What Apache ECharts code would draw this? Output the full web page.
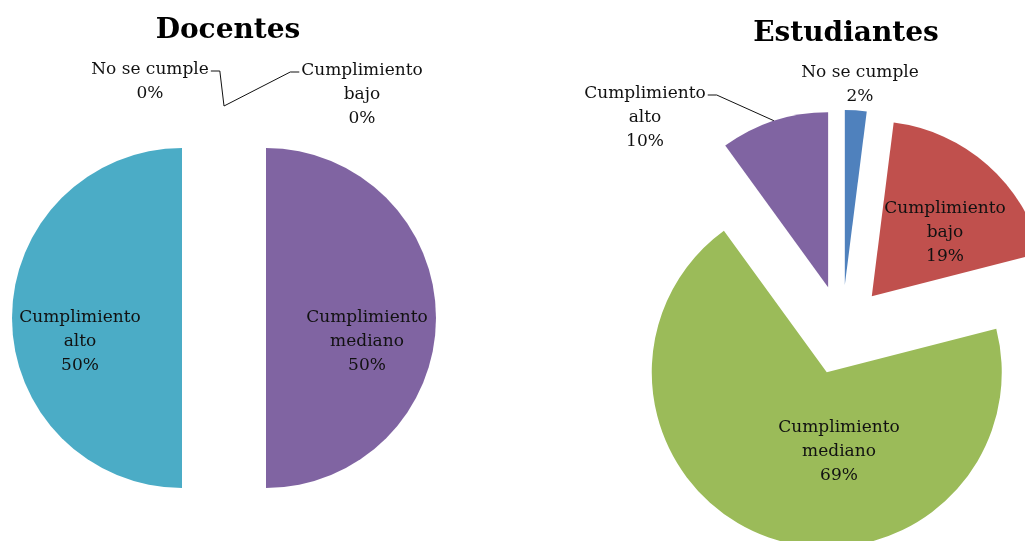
<!DOCTYPE html>
<html>
<head>
<meta charset="utf-8">
<script src="https://cdn.jsdelivr.net/npm/echarts@6/dist/echarts.min.js"></script>
<style>
  html, body { margin: 0; padding: 0; background: #ffffff; }
  #chart { width: 1025px; height: 541px; }
</style>
</head>
<body>
<div id="chart"></div>
<script>
// Categories shared by both pies
const categories = ['No se cumple', 'Cumplimiento bajo', 'Cumplimiento mediano', 'Cumplimiento alto'];
// Percent of answers per category
const docentesValues = [0, 0, 50, 50];
const estudiantesValues = [2, 19, 69, 10];
// Pie titles
const pieTitles = ['Docentes', 'Estudiantes'];
// Slice colours, per category
const docentesColors = ['#4F81BD', '#C0504D', '#8064A2', '#4BACC6'];
const estudiantesColors = ['#4F81BD', '#C0504D', '#9BBB59', '#8064A2'];

const FONT = '"DejaVu Serif", serif';
const LINE_H = 24;

// Geometry of each pie: centre, radius, explosion distance, title anchor,
// and per-slice label anchor (offset from centre) plus leader-line side
// (0 = no line, -1 = line leaves the label's right edge, 1 = leaves its left edge)
const layouts = [
  {
    cx: 224, cy: 318, r: 170, explode: 42, titleX: 223, titleY: 12,
    spots: [[-74, -236, -1], [138, -223, 1], [143, 24, 0], [-144, 24, 0]]
  },
  {
    cx: 842, cy: 330, r: 175, explode: 45, titleX: 841, titleY: 15,
    spots: [[18, -245, 0], [103, -97, 0], [-3, 122, 0], [-197, -212, -1]]
  }
];

// Mid angle of a slice, radians clockwise from 12 o'clock
function midAngle(values, idx) {
  const total = values.reduce((a, b) => a + b, 0);
  let acc = 0;
  for (let i = 0; i < idx; i++) acc += values[i];
  return ((acc + values[idx] / 2) / total) * Math.PI * 2;
}

function labelText(p) {
  return p.name.replace(/^Cumplimiento /, 'Cumplimiento\n') + '\n' + Math.round(p.percent) + '%';
}

function makeLabelLayout(lay, values) {
  return function (p) {
    const s = lay.spots[p.dataIndex];
    const x = lay.cx + s[0];
    const y = lay.cy + s[1];
    const out = { x: x, y: y, align: 'center', verticalAlign: 'middle' };
    if (s[2]) {
      const a = midAngle(values, p.dataIndex);
      const d = lay.r + lay.explode;
      const ax = lay.cx + d * Math.sin(a);
      const ay = lay.cy - d * Math.cos(a);
      const w = p.labelRect.width;
      const h = p.labelRect.height;
      const ly = y - h / 2 + LINE_H / 2 + 1;
      const ex = s[2] < 0 ? x + w / 2 + 2 : x - w / 2 - 2;
      const bx = ex - s[2] * 9;
      out.labelLinePoints = [[ax, ay], [bx, ly], [ex, ly]];
    }
    return out;
  };
}

// One series per slice, so each slice is pushed out along its own mid angle
function buildSlices(values, colors, lay) {
  return categories.map((_, k) => {
    const a = midAngle(values, k);
    return {
      type: 'pie',
      center: [lay.cx + lay.explode * Math.sin(a), lay.cy - lay.explode * Math.cos(a)],
      radius: lay.r,
      startAngle: 90,
      clockwise: true,
      avoidLabelOverlap: false,
      silent: true,
      animation: false,
      label: {
        fontFamily: FONT,
        fontSize: 17,
        lineHeight: LINE_H,
        color: '#111111',
        align: 'center',
        formatter: labelText
      },
      labelLine: { lineStyle: { color: '#111111', width: 1 } },
      labelLayout: makeLabelLayout(lay, values),
      data: categories.map((name, i) => ({
        name: name,
        value: values[i],
        itemStyle: { color: i === k ? colors[i] : 'rgba(0,0,0,0)' },
        label: { show: i === k },
        labelLine: { show: i === k && !!lay.spots[i][2] }
      }))
    };
  });
}

const chart = echarts.init(document.getElementById('chart'), null, { renderer: 'canvas' });
chart.setOption({
  backgroundColor: '#ffffff',
  animation: false,
  title: pieTitles.map((t, i) => ({
    text: t,
    left: layouts[i].titleX,
    top: layouts[i].titleY,
    textAlign: 'center',
    textStyle: { fontFamily: FONT, fontSize: 28, fontWeight: 'bold', color: '#000' }
  })),
  series: buildSlices(docentesValues, docentesColors, layouts[0])
    .concat(buildSlices(estudiantesValues, estudiantesColors, layouts[1]))
});
</script>
</body>
</html>
